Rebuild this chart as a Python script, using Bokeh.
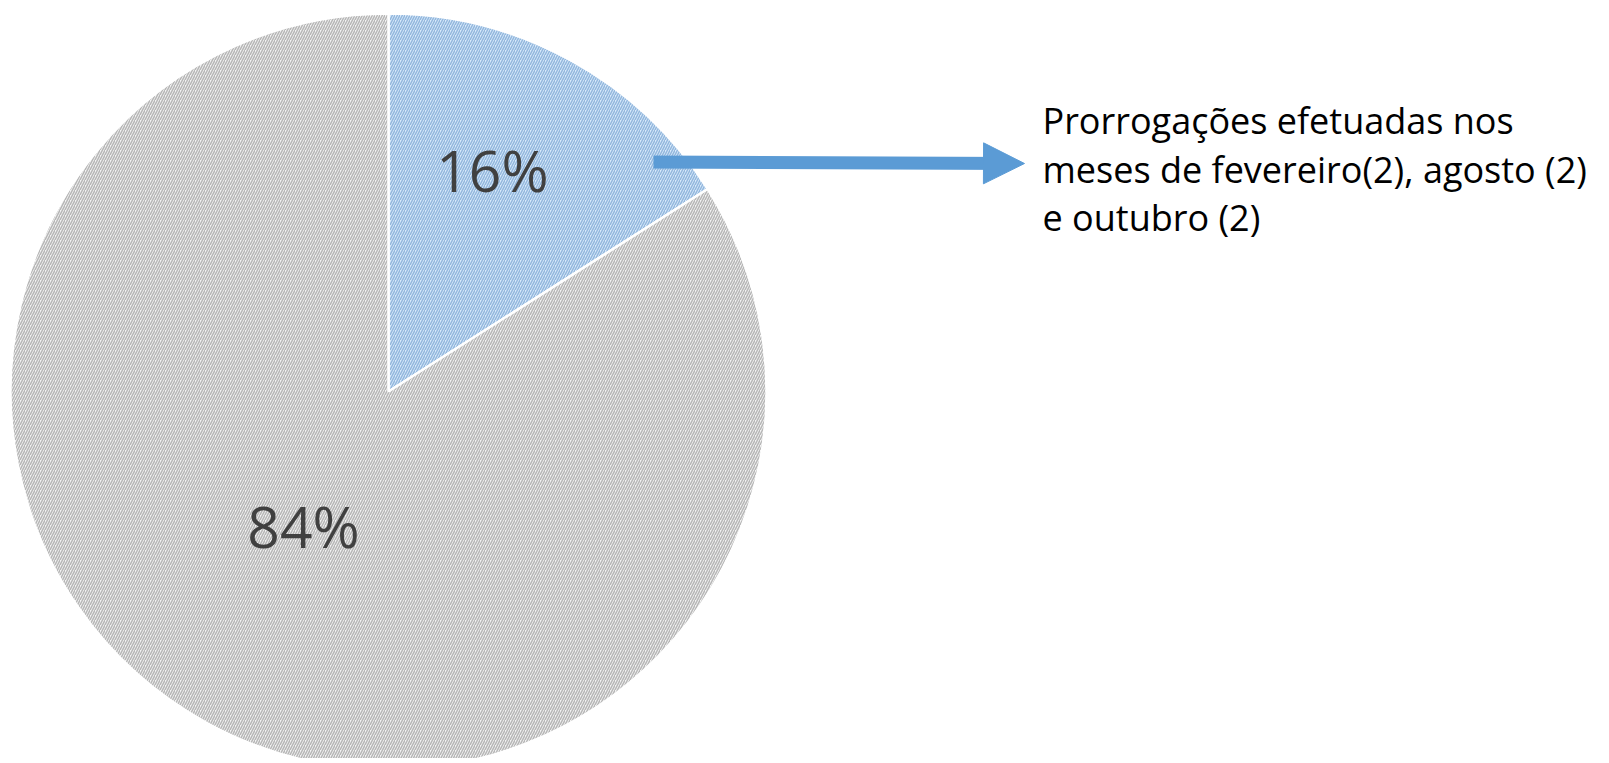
import math
from bokeh.plotting import figure
from bokeh.models import Range1d, Arrow, NormalHead
from bokeh.core.properties import value
from bokeh.embed import file_html
from bokeh.resources import INLINE

# ---- data ----
categories = ["Prorrogações", "Demais"]
values = [16, 84]
labels = ["16%", "84%"]
annotation_lines = [
    "Prorrogações efetuadas nos",
    "meses de fevereiro(2), agosto (2)",
    "e outubro (2)",
]

W, H = 1604, 758
SCREEN_H = 763
p = figure(width=W, height=H, output_backend="svg", toolbar_location=None,
           x_range=Range1d(0, W), y_range=Range1d(SCREEN_H - H, SCREEN_H),
           min_border=0, background_fill_color="white", border_fill_color="white")
p.axis.visible = False
p.grid.visible = False
p.outline_line_color = None

def sy(y):  # screen y -> data y
    return SCREEN_H - y

cx, cy, r = 388, sy(391), 378

fills = ["#d8eafb", "#f3f3f3"]
hatches = ["#93b7dd", "#b6b6b6"]

total = sum(values)
start = math.pi / 2
label_r = [0.648, 0.422]
label_shift = [math.radians(3.7), math.radians(-3.4)]
for i, v in enumerate(values):
    sweep = 2 * math.pi * v / total
    end = start
    st = start - sweep
    p.wedge(x=[cx], y=[cy], radius=r, start_angle=st, end_angle=end,
            fill_color=fills[i], line_color="white", line_width=2.5,
            hatch_pattern="/", hatch_color=hatches[i], hatch_scale=5,
            hatch_weight=1.5)
    mid = (st + end) / 2 + label_shift[i]
    lx = cx + label_r[i] * r * math.cos(mid)
    ly = cy + label_r[i] * r * math.sin(mid)
    p.text(x=[lx], y=[ly], text=[labels[i]], text_align="center",
           text_baseline="middle", text_font=value("Open Sans"),
           text_font_size="57px", text_color="#404040")
    start = st

p.add_layout(Arrow(end=NormalHead(size=41, fill_color="#5b9bd5", line_color="#5b9bd5"),
                   x_start=653, y_start=sy(161.5), x_end=1024, y_end=sy(163),
                   line_color="#5b9bd5", line_width=13))

for k, line in enumerate(annotation_lines):
    p.text(x=[1042], y=[sy(120 + 48.5 * k)], text=[line], text_align="left",
           text_baseline="middle", text_font=value("Open Sans"),
           text_font_size="36px", text_color="#000000")

open("out.html", "w").write(file_html(p, INLINE))
